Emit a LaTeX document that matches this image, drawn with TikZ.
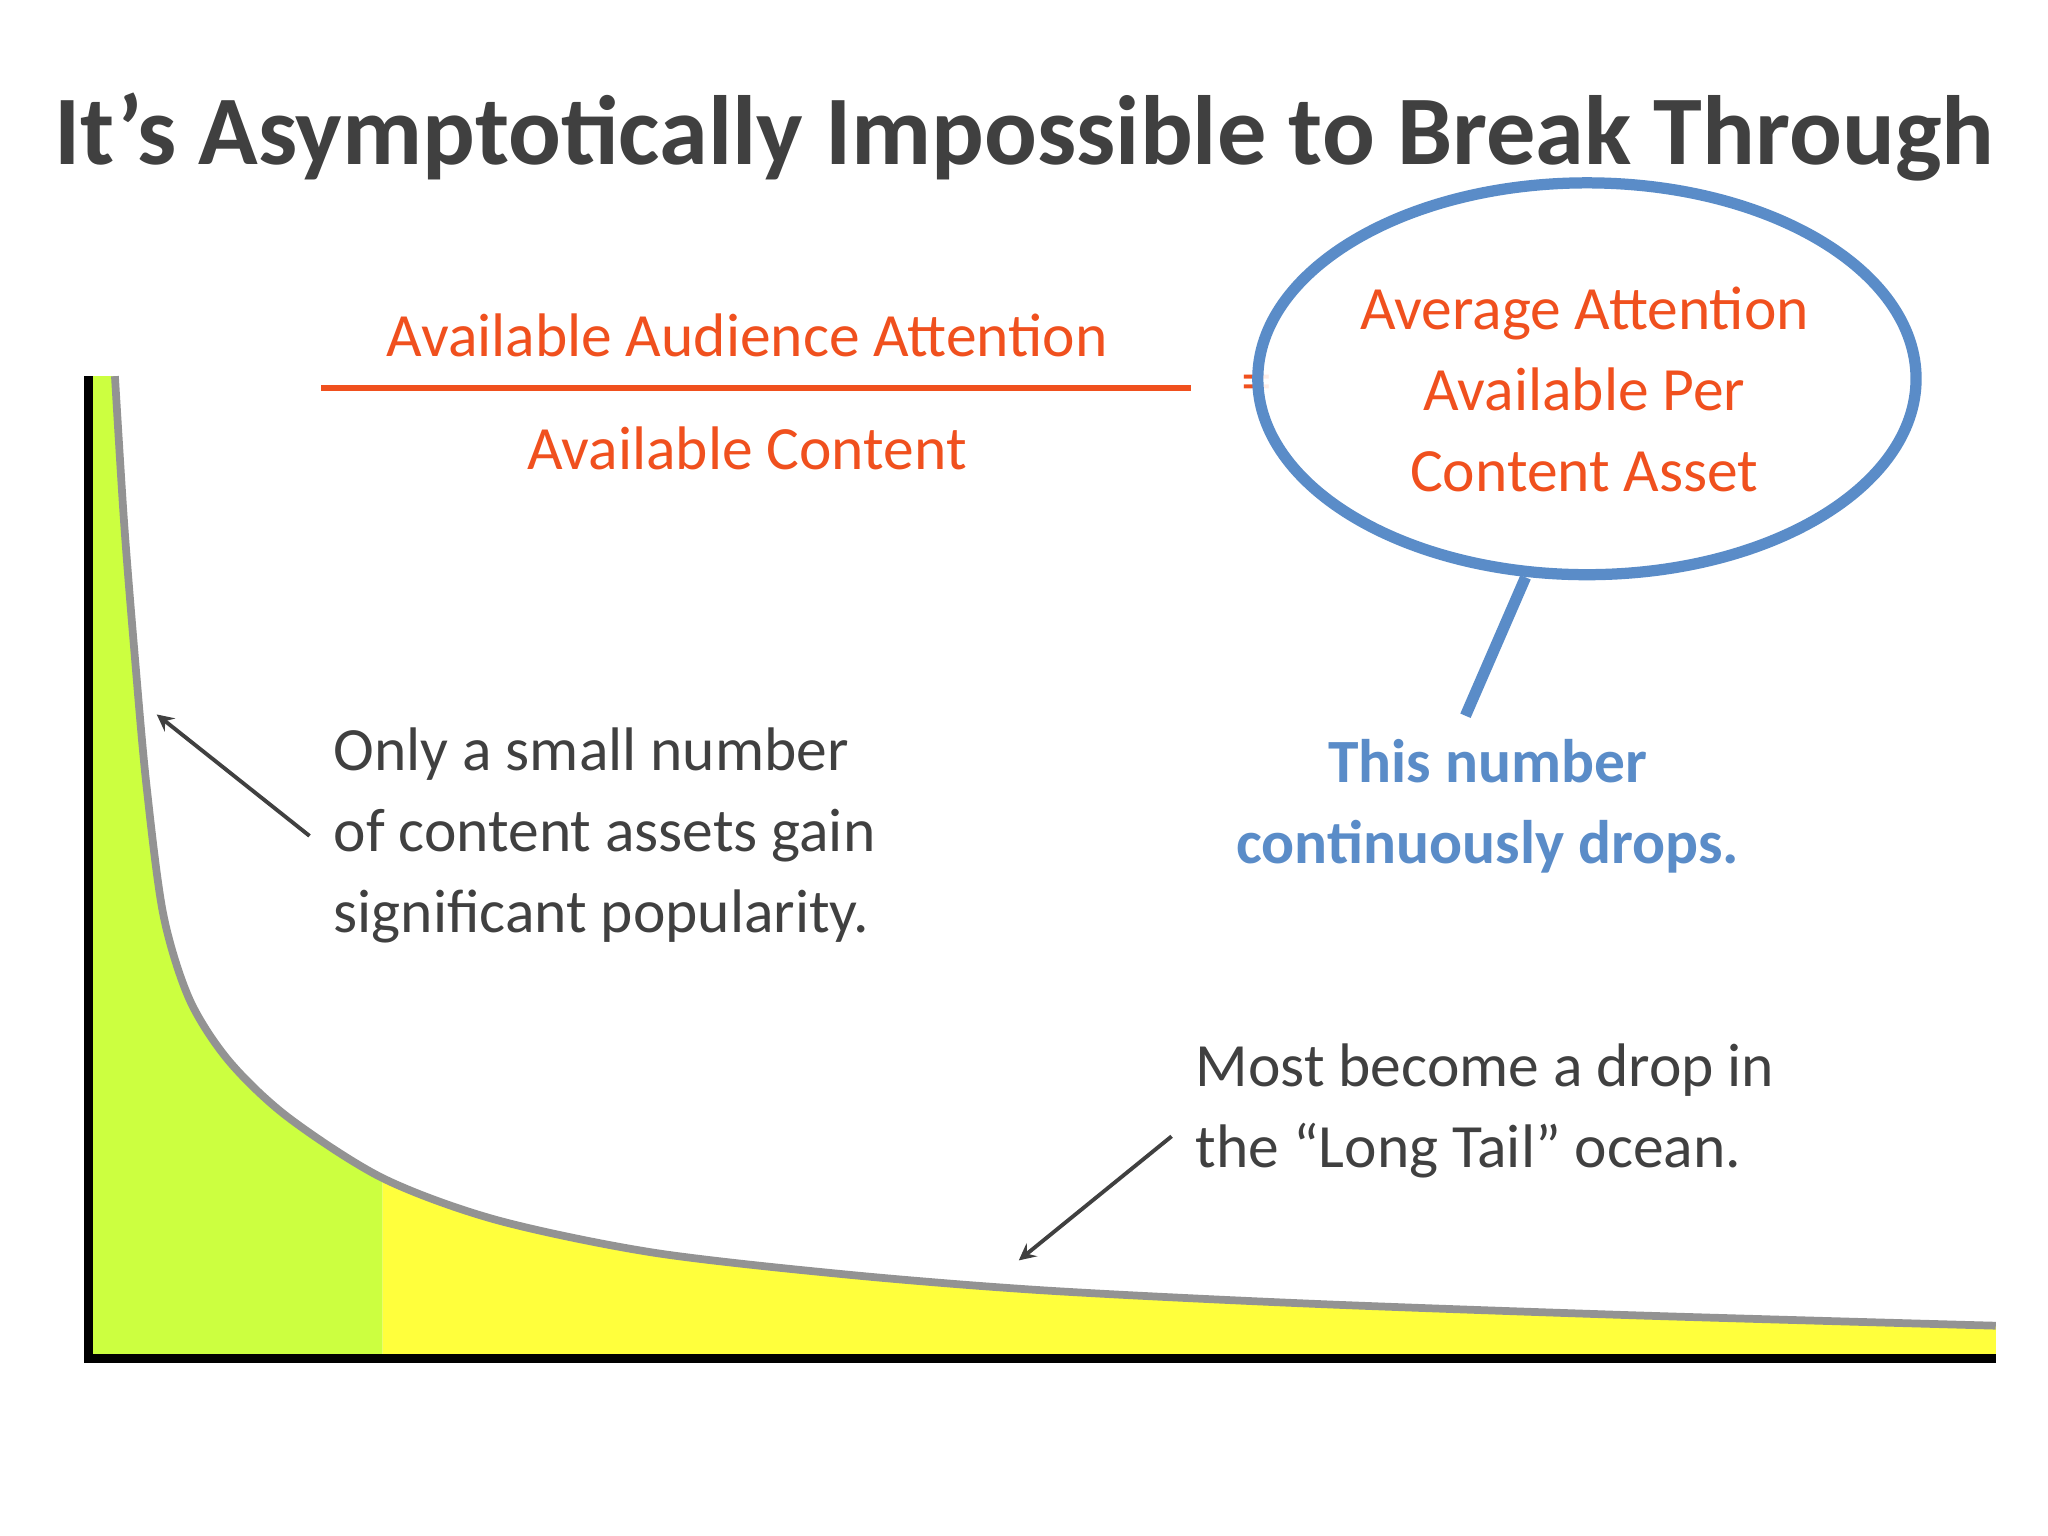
\documentclass[tikz,border=0pt]{standalone}
\usepackage{fontspec}
\setmainfont{Carlito}
\begin{document}
\begin{tikzpicture}[x=0.013061cm,y=-0.013061cm,
  orangetxt/.style={text=orng,font=\fontsize{17.5}{21}\selectfont},
  graytxt/.style={text=txtgray,font=\fontsize{17.5}{23}\selectfont,align=left},
  bluetxt/.style={text=blu,font=\bfseries\fontsize{17.5}{23}\selectfont,align=center},
  pointer/.style={draw=txtgray,line width=1.1pt,-stealth}]
\definecolor{orng}{RGB}{240,80,30}
\definecolor{txtgray}{RGB}{64,64,64}
\definecolor{blu}{RGB}{90,140,200}
\definecolor{grn}{RGB}{204,255,64}
\definecolor{ylw}{RGB}{255,255,60}
\useasboundingbox (0,0) rectangle (1568,1176);
\fill[white] (0,0) rectangle (1568,1176);
\def\crv{(88,288) (95,400) (103,500) (112,600) (125,700) (145,765) (175,812) (220,855) (293,902) (380,934) (500,959) (650,976) (800,988) (1000,998) (1250,1007) (1528,1015)}
\begin{scope}
 \clip (0,0) rectangle (293,1040);
 \fill[grn] plot[smooth] coordinates {\crv} -- (1528,1040) -- (68,1040) -- (68,288) -- cycle;
\end{scope}
\begin{scope}
 \clip (293,0) rectangle (1568,1040);
 \fill[ylw] plot[smooth] coordinates {\crv} -- (1528,1040) -- (68,1040) -- (68,288) -- cycle;
\end{scope}
\draw[gray!85,line width=2.2pt] plot[smooth] coordinates {\crv};
\coordinate (top) at (68,288);
\coordinate (orig) at (68,1040);
\coordinate (xend) at (1528,1040);
\draw[black,line width=2.5pt] (top) -- (orig) -- (xend);
\node[text=txtgray,font=\bfseries\fontsize{28}{32}\selectfont] (title) at (784,105) {It’s Asymptotically Impossible to Break Through};
\node[orangetxt] (num) at (572,257) {Available Audience Attention};
\node[orangetxt] (den) at (572,343) {Available Content};
\coordinate (fl) at (246,297); \coordinate (fr) at (912,297);
\draw[orng,line width=1.5pt] (fl) -- (fr);
\node[orangetxt] (eq) at (962,297) {=};
\coordinate (tailA) at (1168,442); \coordinate (tailB) at (1122,548);
\draw[blu,line width=3.2pt] (tailA) -- (tailB);
\draw[blu,line width=3.2pt,fill=white,fill opacity=0.9] (1215,290) ellipse [x radius=252,y radius=150];
\node[orangetxt,align=center,font=\fontsize{17.5}{23}\selectfont] (avg) at (1213,298) {Average Attention\\Available Per\\Content Asset};
\node[bluetxt] (drops) at (1139,617) {This number\\continuously drops.};
\node[graytxt,anchor=north west] (only) at (246,548) {Only a small number\\of content assets gain\\significant popularity.};
\node[graytxt,anchor=north west] (most) at (906,790) {Most become a drop in\\the “Long Tail” ocean.};
\coordinate (a1s) at (237,640); \coordinate (a1e) at (120,547);
\coordinate (a2s) at (897,870); \coordinate (a2e) at (780,965);
\draw[pointer] (a1s) -- (a1e);
\draw[pointer] (a2s) -- (a2e);
\end{tikzpicture}
\end{document}
